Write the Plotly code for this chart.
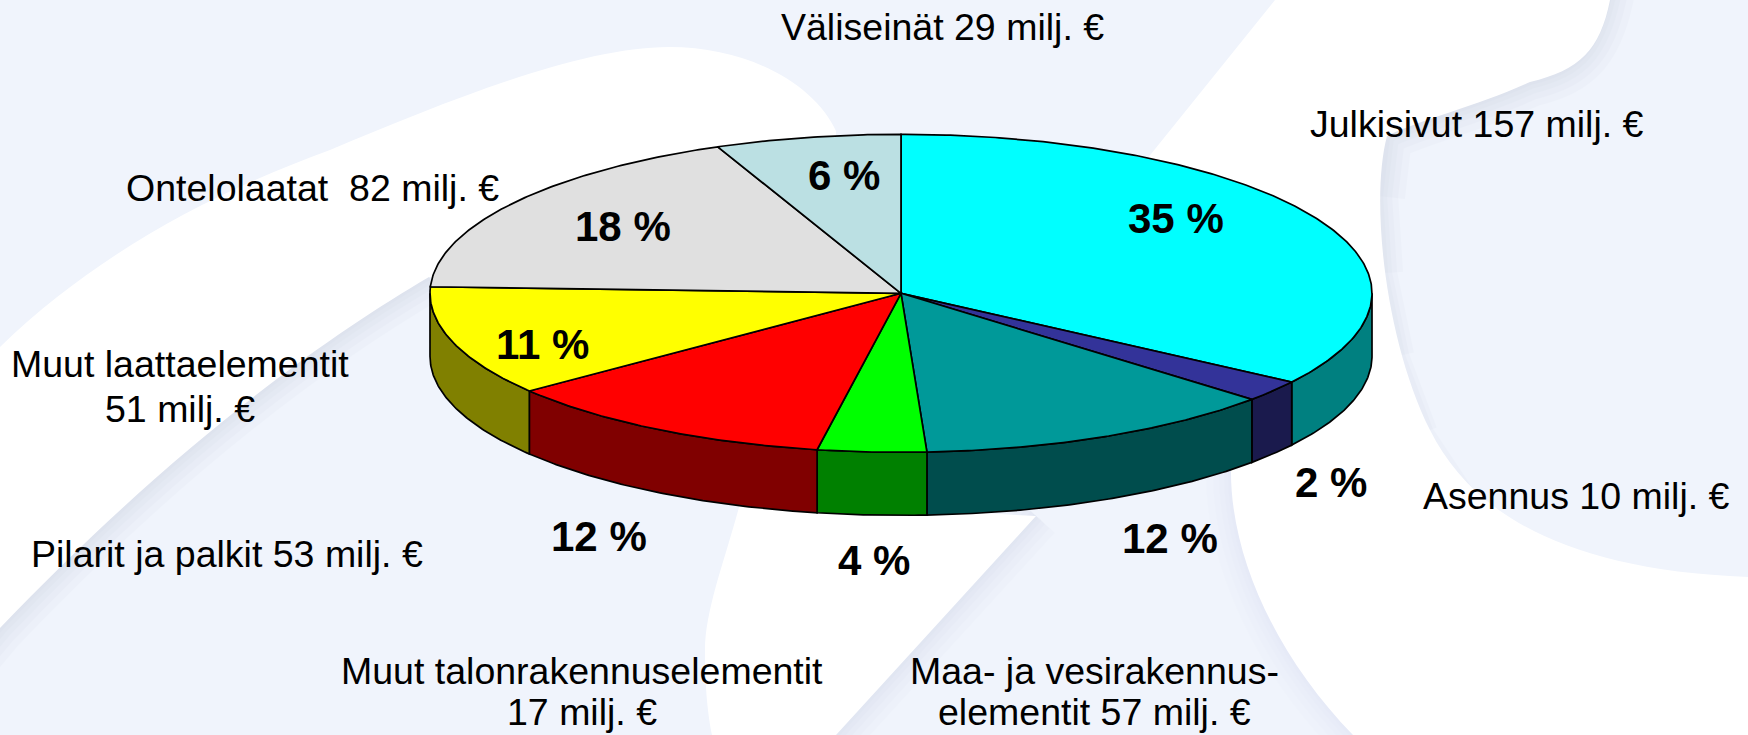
import math
import plotly.graph_objects as go

# ---- data ----
names = ["Julkisivut", "Asennus", "Maa- ja vesirakennuselementit", "Muut talonrakennuselementit",
         "Pilarit ja palkit", "Muut laattaelementit", "Ontelolaatat", "Väliseinät"]
values = [157, 10, 57, 17, 53, 51, 82, 29]
percent_labels = ["35 %", "2 %", "12 %", "4 %", "12 %", "11 %", "18 %", "6 %"]
value_labels = [["Julkisivut 157 milj. €"], ["Asennus 10 milj. €"],
                ["Maa- ja vesirakennus-", "elementit 57 milj. €"],
                ["Muut talonrakennuselementit", "17 milj. €"], ["Pilarit ja palkit 53 milj. €"],
                ["Muut laattaelementit", "51 milj. €"], ["Ontelolaatat  82 milj. €"], ["Väliseinät 29 milj. €"]]

# ---- styles and placement ----
top_colors = ["#00FFFF", "#333399", "#009999", "#00FF00", "#FF0000", "#FFFF00", "#E0E0E0", "#BBE0E3"]
side_colors = ["#008080", "#1A1A4D", "#004D4D", "#008000", "#800000", "#808000", "#707070", "#5E7072"]
label_xy = [(1477, 124), (1576, 496), (1094, 691), (582, 691), (227, 554), (180, 386), (312, 188), (942, 27)]
line_gaps = [0, 0, 41, 41, 0, 45, 0, 0]
percent_xy = [(1176, 218), (1331, 482), (1170, 538), (874, 560), (599, 536), (542, 344), (623, 226), (844, 175)]
CX, CY, RX, RY, DEPTH = 901, 293.3, 471, 159, 63
W, H = 1748, 735
PALE = "#F0F4FC"
SHADOW = "#BCC6D8"
LABEL_FONT = dict(family="Liberation Sans, Arial, sans-serif", color="black")


def rim(deg):
    a = math.radians(deg)
    return CX + RX * math.sin(a), CY - RY * math.cos(a)


def arc(a0, a1):
    n = max(2, int(abs(a1 - a0) * 2))
    return [rim(a0 + (a1 - a0) * i / n) for i in range(n + 1)]


total = sum(values)
bounds = [0.0]
for v in values:
    bounds.append(bounds[-1] + v / total * 360)

fig = go.Figure()

# side walls of the front half
for i in range(len(values)):
    a0, a1 = max(bounds[i], 90), min(bounds[i + 1], 270)
    if a1 <= a0:
        continue
    pts = arc(a0, a1)
    xs = [p[0] for p in pts] + [p[0] for p in reversed(pts)] + [pts[0][0]]
    ys = [p[1] for p in pts] + [p[1] + DEPTH for p in reversed(pts)] + [pts[0][1]]
    fig.add_trace(go.Scatter(x=xs, y=ys, mode="lines", fill="toself", fillcolor=side_colors[i],
                             line=dict(color="black", width=1.7), hoverinfo="skip", showlegend=False))

# top surface wedges
for i in range(len(values)):
    pts = arc(bounds[i], bounds[i + 1])
    xs = [CX] + [p[0] for p in pts] + [CX]
    ys = [CY] + [p[1] for p in pts] + [CY]
    fig.add_trace(go.Scatter(x=xs, y=ys, mode="lines", fill="toself", fillcolor=top_colors[i],
                             line=dict(color="black", width=1.7), hoverinfo="skip", showlegend=False,
                             name=names[i]))

# background artwork
edge_a = "M 429 277 C 330 335 180 440 0 628 L -60 700"
edge_b_top = "M 1612 -20 C 1600 50 1580 70 1530 82 C 1480 105 1420 120 1387 136"
edge_b_taper = {6: " L 1380 196 L 1385 273 L 1402 355 L 1430 430 L 1470 490",
                14: " L 1380 196 L 1385 273 L 1402 355 L 1430 430",
                24: " L 1380 196 L 1385 273 L 1402 355",
                36: " L 1380 196 L 1385 273",
                50: " L 1380 196"}
edge_c = "M 1036 516 L 836 735 L 800 775"
edge_d = "M 1231 469 C 1230 560 1280 660 1353 735 L 1400 785"
swoosh_a = ("M 0 347 C 100 250 220 190 330 150 C 450 100 580 47 669 47 C 750 47 815 85 836 131 "
            "L 836 300 L 429 277 C 330 335 180 440 0 628 Z")
swoosh_b = ("M 1275 0 L 1610 0 C 1600 50 1580 70 1530 82 C 1480 105 1420 120 1387 136 "
            "C 1370 200 1385 340 1430 430 C 1470 510 1560 570 1748 577 L 1748 735 L 1353 735 "
            "C 1280 660 1230 560 1231 469 L 1100 300 L 1147 159 Z")
swoosh_c = "M 741 500 C 725 560 705 610 705 650 C 705 690 708 715 712 735 L 836 735 L 1036 516 Z"

shapes = [dict(type="rect", xref="x", yref="y", x0=0, x1=W, y0=0, y1=H, fillcolor=PALE,
               line_width=0, layer="below")]
for width in (6, 14, 24, 36, 50):
    for path, strength in ((edge_a, 0.07), (edge_b_top + edge_b_taper[width], 0.07),
                           (edge_c, 0.05), (edge_d, 0.025)):
        shapes.append(dict(type="path", path=path, xref="x", yref="y", layer="below",
                           line=dict(color=SHADOW, width=width), opacity=strength))
for path in (swoosh_a, swoosh_b, swoosh_c):
    shapes.append(dict(type="path", path=path, xref="x", yref="y", fillcolor="white",
                       line_width=0, layer="below"))

annotations = []
for lines, (x, y), gap in zip(value_labels, label_xy, line_gaps):
    first = y - gap * (len(lines) - 1) / 2
    for k, text in enumerate(lines):
        annotations.append(dict(x=x, y=first + k * gap, text=text, showarrow=False,
                                xanchor="center", yanchor="middle",
                                font=dict(size=37.5, **LABEL_FONT)))
for text, (x, y) in zip(percent_labels, percent_xy):
    annotations.append(dict(x=x, y=y, text=f"<b>{text}</b>", showarrow=False, xanchor="center",
                            yanchor="middle", font=dict(size=42, **LABEL_FONT)))

fig.update_layout(
    width=W, height=H, margin=dict(l=0, r=0, t=0, b=0), paper_bgcolor=PALE, plot_bgcolor=PALE,
    xaxis=dict(range=[0, W], visible=False, fixedrange=True),
    yaxis=dict(range=[H, 0], visible=False, fixedrange=True),
    shapes=shapes, annotations=annotations, showlegend=False,
)
fig.write_html("out.html", config={"displayModeBar": False},
               post_script="document.body.style.margin='0';document.body.style.overflow='hidden';")
